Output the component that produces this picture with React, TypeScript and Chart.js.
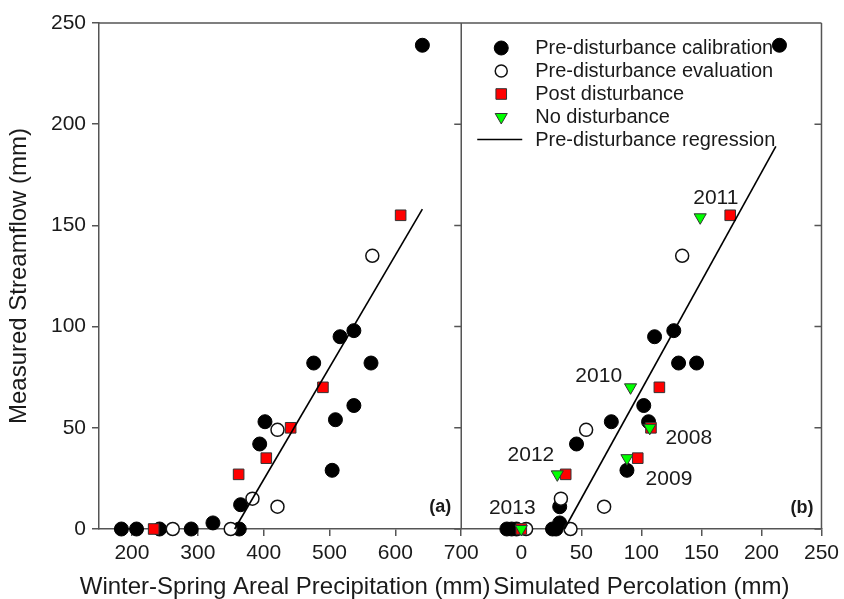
import React, { useEffect, useRef } from 'react';
import { Chart, registerables } from 'chart.js';
import { drawPoint } from 'chart.js/helpers';

Chart.register(...registerables);

// ---------- data ----------
const Y_TICKS = [0, 50, 100, 150, 200, 250];
const XL_TICKS = [200, 300, 400, 500, 600, 700];
const XR_TICKS = [0, 50, 100, 150, 200, 250];

// Panel (a): winter-spring areal precipitation vs measured streamflow
const CAL_L_X = [184, 207, 242, 290, 323, 363, 365, 394, 402, 476, 504, 509, 516, 537, 537, 563, 641];
const CAL_L_Y = [0, 0, 0, 0, 3, 0, 12, 42, 53, 82, 29, 54, 95, 98, 61, 82, 239];
const EVAL_L_X = [262, 350, 383, 421, 421, 565];
const EVAL_L_Y = [0, 0, 15, 11, 49, 135];
const POST_L_X = [233, 362, 404, 441, 490, 608];
const POST_L_Y = [0, 27, 35, 50, 70, 155];
const REG_L_X = [356, 641];
const REG_L_Y = [0, 158];

// Panel (b): simulated percolation vs measured streamflow
const CAL_R_X = [-12, -8, -4, 26, 29, 32, 32, 46, 75, 88, 102, 106, 111, 127, 131, 146, 215];
const CAL_R_Y = [0, 0, 0, 0, 0, 3, 11, 42, 53, 29, 61, 53, 95, 98, 82, 82, 239];
const EVAL_R_X = [4, 41, 33, 69, 54, 134];
const EVAL_R_Y = [0, 0, 15, 11, 49, 135];
const POST_R_X = [0, 37, 97, 108, 115, 174];
const POST_R_Y = [0, 27, 35, 50, 70, 155];
const NODIST_R_X = [0, 30, 88, 107, 91, 149];
const NODIST_R_Y = [0, 27, 35, 50, 70, 154];
const REG_R_X = [36, 212];
const REG_R_Y = [0, 189];

// year annotations (data coordinates in panel b)
const YEAR_TEXT = ['2013', '2012', '2010', '2008', '2009', '2011'];
const YEAR_X = [-7.5, 8, 64.5, 139.5, 123, 162];
const YEAR_Y = [10.5, 36.5, 75.5, 45, 24.5, 163.5];

const LEGEND_LABELS = [
  'Pre-disturbance calibration',
  'Pre-disturbance evaluation',
  'Post disturbance',
  'No disturbance',
  'Pre-disturbance regression',
];

const X_TITLE_L = 'Winter-Spring Areal Precipitation (mm)';
const X_TITLE_R = 'Simulated Percolation (mm)';
const Y_TITLE = 'Measured Streamflow (mm)';

// ---------- styles ----------
const FONT = '"Liberation Sans", Arial, Helvetica, sans-serif';
const AXIS = '#555';
const TEXT = '#1a1a1a';

const pts = (xs: number[], ys: number[]) => xs.map((x, i) => ({ x, y: ys[i] }));

const CAL_STYLE = { pointStyle: 'circle', pointRadius: 7, backgroundColor: '#000', borderColor: '#000', borderWidth: 1 };
const EVAL_STYLE = { pointStyle: 'circle', pointRadius: 6.5, backgroundColor: '#fff', borderColor: '#111', borderWidth: 1.5 };
const POST_STYLE = { pointStyle: 'rect', pointRadius: 7.5, backgroundColor: '#ff0000', borderColor: '#333', borderWidth: 1 };
const NODIST_STYLE = { pointStyle: 'triangle', rotation: 180, pointRadius: 7, backgroundColor: '#00ff00', borderColor: '#333', borderWidth: 1 };
const REG_STYLE = { showLine: true, pointRadius: 0, borderColor: '#000', borderWidth: 1.6, backgroundColor: '#000' };

const framePlugin = {
  id: 'frame',
  beforeDatasetsDraw(chart: any) {
    const { ctx, chartArea } = chart;
    const xL = chart.scales.xL;
    const y = chart.scales.y;
    ctx.save();
    ctx.strokeStyle = AXIS;
    ctx.lineWidth = 1.5;
    ctx.beginPath();
    ctx.moveTo(chartArea.left, chartArea.top);
    ctx.lineTo(chartArea.right, chartArea.top);
    ctx.moveTo(chartArea.right, chartArea.top);
    ctx.lineTo(chartArea.right, chartArea.bottom);
    ctx.moveTo(xL.right, chartArea.top);
    ctx.lineTo(xL.right, chartArea.bottom);
    for (const v of Y_TICKS) {
      const py = y.getPixelForValue(v);
      ctx.moveTo(xL.right, py);
      ctx.lineTo(xL.right - 7, py);
      ctx.moveTo(chartArea.right, py);
      ctx.lineTo(chartArea.right - 7, py);
    }
    ctx.stroke();
    ctx.restore();
  },
};

const annotPlugin = {
  id: 'annot',
  afterDraw(chart: any) {
    const { ctx, chartArea } = chart;
    const xL = chart.scales.xL;
    const xR = chart.scales.xR;
    const y = chart.scales.y;
    ctx.save();
    // left x-axis title (drawn here so it may overflow its panel like the original)
    ctx.fillStyle = TEXT;
    ctx.font = `24px ${FONT}`;
    ctx.textAlign = 'center';
    ctx.textBaseline = 'middle';
    ctx.fillText(X_TITLE_L, (xL.left + xL.right) / 2 + 5, xL.bottom - 12);

    // year labels
    ctx.font = `21px ${FONT}`;
    YEAR_TEXT.forEach((t, i) => {
      ctx.fillText(t, xR.getPixelForValue(YEAR_X[i]), y.getPixelForValue(YEAR_Y[i]));
    });
    // panel letters
    ctx.font = `bold 18px ${FONT}`;
    ctx.textAlign = 'right';
    ctx.fillText('(a)', xL.right - 10, chartArea.bottom - 22);
    ctx.fillText('(b)', chartArea.right - 8, chartArea.bottom - 21);

    // legend
    const lx = xR.left + 40;
    const ly0 = chartArea.top + 25;
    const dy = 23;
    const styles = [CAL_STYLE, EVAL_STYLE, POST_STYLE, NODIST_STYLE];
    styles.forEach((s: any, i) => {
      ctx.fillStyle = s.backgroundColor;
      ctx.strokeStyle = s.borderColor;
      ctx.lineWidth = s.borderWidth;
      const r = i === 1 ? 6 : s.pointRadius;
      drawPoint(ctx, { pointStyle: s.pointStyle, rotation: s.rotation || 0, radius: r, borderWidth: s.borderWidth }, lx, ly0 + i * dy);
    });
    const lineY = ly0 + 4 * dy - 0.5;
    ctx.strokeStyle = '#000';
    ctx.lineWidth = 1.6;
    ctx.beginPath();
    ctx.moveTo(lx - 24, lineY);
    ctx.lineTo(lx + 21, lineY);
    ctx.stroke();
    ctx.fillStyle = TEXT;
    ctx.font = `20px ${FONT}`;
    ctx.textAlign = 'left';
    ctx.textBaseline = 'middle';
    LEGEND_LABELS.forEach((t, i) => {
      ctx.fillText(t, lx + 34, ly0 + i * dy);
    });
    ctx.restore();
  },
};

function xAxis(min: number, max: number, ticks: number[], weight: number, title: string) {
  return {
    type: 'linear',
    position: 'bottom',
    stack: 'x',
    stackWeight: weight,
    min,
    max,
    afterBuildTicks: (s: any) => {
      s.ticks = ticks.map((v) => ({ value: v }));
    },
    afterFit: (s: any) => {
      s.height = 70;
    },
    grid: { drawOnChartArea: false, drawTicks: true, tickLength: 7, color: AXIS, lineWidth: 1.5 },
    border: { display: true, color: AXIS, width: 1.5 },
    ticks: { font: { size: 21, family: FONT }, color: TEXT, padding: 5, maxRotation: 0, autoSkip: false },
    title: {
      display: title !== '',
      text: title,
      color: TEXT,
      font: { size: 24, family: FONT, lineHeight: 1 },
      padding: { top: 0, bottom: 0 },
    },
  };
}

export default function App() {
  const ref = useRef<HTMLCanvasElement | null>(null);

  useEffect(() => {
    if (!ref.current) return;
    const chart = new Chart(ref.current, {
      type: 'scatter',
      data: {
        datasets: [
          { label: 'cal a', data: pts(CAL_L_X, CAL_L_Y), xAxisID: 'xL', order: 5, clip: false, ...CAL_STYLE },
          { label: 'eval a', data: pts(EVAL_L_X, EVAL_L_Y), xAxisID: 'xL', order: 4, clip: false, ...EVAL_STYLE },
          { label: 'post a', data: pts(POST_L_X, POST_L_Y), xAxisID: 'xL', order: 3, clip: false, ...POST_STYLE },
          { label: 'reg a', data: pts(REG_L_X, REG_L_Y), xAxisID: 'xL', order: 1, clip: false, ...REG_STYLE },
          { label: 'cal b', data: pts(CAL_R_X, CAL_R_Y), xAxisID: 'xR', order: 5, clip: false, ...CAL_STYLE },
          { label: 'eval b', data: pts(EVAL_R_X, EVAL_R_Y), xAxisID: 'xR', order: 4, clip: false, ...EVAL_STYLE },
          { label: 'post b', data: pts(POST_R_X, POST_R_Y), xAxisID: 'xR', order: 3, clip: false, ...POST_STYLE },
          { label: 'nodist b', data: pts(NODIST_R_X, NODIST_R_Y), xAxisID: 'xR', order: 2, clip: false, ...NODIST_STYLE },
          { label: 'reg b', data: pts(REG_R_X, REG_R_Y), xAxisID: 'xR', order: 1, clip: false, ...REG_STYLE },
        ] as any,
      },
      options: {
        animation: false,
        responsive: false,
        events: [],
        layout: { padding: { top: 23, right: 21, left: 0, bottom: 0 } },
        plugins: { legend: { display: false }, tooltip: { enabled: false } },
        scales: {
          xL: xAxis(150, 700, XL_TICKS, 363, ''),
          xR: xAxis(-50, 250, XR_TICKS, 361, X_TITLE_R),
          y: {
            type: 'linear',
            position: 'left',
            min: 0,
            max: 250,
            afterBuildTicks: (s: any) => {
              s.ticks = Y_TICKS.map((v) => ({ value: v }));
            },
            afterFit: (s: any) => {
              s.width = 99;
            },
            grid: { drawOnChartArea: false, drawTicks: true, tickLength: 7, color: AXIS, lineWidth: 1.5 },
            border: { display: true, color: AXIS, width: 1.5 },
            ticks: { font: { size: 21, family: FONT }, color: TEXT, padding: 6 },
            title: {
              display: true,
              text: Y_TITLE,
              color: TEXT,
              font: { size: 24, family: FONT, lineHeight: 1 },
              padding: { top: 7, bottom: 0 },
            },
          },
        } as any,
      },
      plugins: [framePlugin, annotPlugin],
    } as any);
    return () => chart.destroy();
  }, []);

  return (
    <div style={{ position: 'absolute', left: 0, top: 0, width: 844, height: 599, background: '#fff' }}>
      <canvas ref={ref} width={844} height={599} style={{ display: 'block' }} />
    </div>
  );
}
